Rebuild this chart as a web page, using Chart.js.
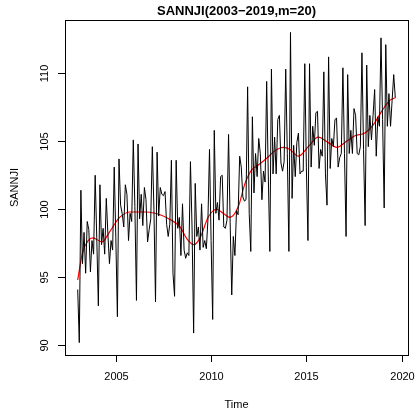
<!DOCTYPE html>
<html>
<head>
<meta charset="utf-8">
<title>SANNJI</title>
<script src="https://cdn.jsdelivr.net/npm/chart.js@4/dist/chart.umd.min.js"></script>
<style>
  html, body { margin: 0; padding: 0; background: #fff; }
  #wrap { width: 415px; height: 414px; }
</style>
</head>
<body>
<div id="wrap"><canvas id="plot" width="415" height="414"></canvas></div>
<script>
// monthly series, Jan 2003 .. Sep 2019
const startYear = 2003;
const sannji = [
  94.1, 90.2, 101.4, 96.0, 98.3, 95.3, 99.1, 98.5, 95.4, 97.7, 96.7, 102.5,
  97.9, 92.9, 101.8, 97.4, 98.6, 96.7, 100.8, 98.2, 96.0, 97.7, 97.0, 103.1,
  97.9, 92.1, 103.7, 100.3, 99.7, 98.7, 101.8, 101.1, 97.7, 99.7, 99.1, 105.1,
  100.2, 93.3, 104.8, 99.3, 101.1, 98.8, 101.6, 100.7, 97.6, 98.5, 99.3, 104.6,
  100.0, 93.2, 104.2, 99.5, 101.6, 101.1, 101.0, 101.3, 98.9, 98.0, 98.9, 103.6,
  95.3, 93.6, 103.6, 98.6, 99.4, 96.6, 100.4, 97.0, 96.4, 96.8, 96.6, 103.5,
  98.7, 90.9, 101.9, 98.0, 98.7, 97.0, 100.4, 97.2, 97.7, 97.1, 99.2, 104.4,
  97.7, 91.9, 105.8, 99.7, 100.5, 99.2, 102.4, 102.5, 98.7, 98.6, 99.2, 105.5,
  99.0, 93.7, 98.0, 96.6, 99.9, 99.6, 103.9, 103.1, 100.9, 100.6, 100.7, 109.0,
  99.7, 96.9, 106.8, 101.2, 104.1, 102.4, 105.2, 104.1, 100.7, 102.8, 102.0, 109.4,
  102.6, 96.9, 110.3, 102.6, 105.3, 102.6, 106.6, 106.9, 103.4, 102.8, 103.5, 110.3,
  104.1, 96.9, 113.0, 100.8, 104.7, 102.4, 104.9, 105.6, 102.6, 102.8, 102.8, 110.7,
  103.1, 97.7, 110.7, 103.1, 106.1, 104.7, 107.1, 107.2, 103.0, 104.4, 103.9, 110.1,
  102.6, 100.3, 111.2, 103.0, 105.2, 104.6, 106.6, 106.7, 103.1, 103.8, 104.1, 110.4,
  104.1, 98.0, 109.9, 104.1, 105.8, 104.1, 107.4, 106.9, 104.1, 104.0, 104.6, 111.5,
  104.4, 98.8, 110.6, 104.6, 106.9, 105.1, 106.9, 108.8, 103.9, 106.8, 106.1, 112.6,
  106.6, 100.1, 112.1, 106.1, 108.5, 106.1, 108.0, 109.9, 108.2
];

// smoothed trend (m=20), knots along the time axis
const trendTime = [
  2003.0, 2003.25, 2003.55, 2003.8, 2004.27, 2004.7, 2005.2, 2005.75,
  2006.62, 2007.32, 2007.85, 2008.37, 2008.72, 2009.1, 2009.42, 2009.86,
  2010.3, 2010.64, 2010.99, 2011.43, 2011.78, 2012.13, 2012.48, 2012.92,
  2013.35, 2013.79, 2014.14, 2014.58, 2015.1, 2015.62, 2016.15, 2016.59,
  2017.11, 2017.55, 2018.07, 2018.51, 2018.95, 2019.38, 2019.667
];
const trendValues = [
  94.8, 96.8, 97.7, 97.9, 97.6, 98.4, 99.4, 99.8,
  99.8, 99.6, 99.25, 98.7, 97.85, 97.4, 97.9, 99.45,
  100.0, 99.7, 99.4, 100.2, 101.9, 102.9, 103.25, 103.75,
  104.3, 104.55, 104.4, 103.9, 104.6, 105.3, 104.9, 104.55,
  105.0, 105.4, 105.6, 106.2, 107.2, 108.0, 108.2
];

const xTicks = [2005, 2010, 2015, 2020];
const yTicks = [90, 95, 100, 105, 110];
const mainTitle = 'SANNJI(2003\u22122019,m=20)';
const xTitle = 'Time';
const yTitle = 'SANNJI';

const FONT = '"Liberation Sans", Arial, Helvetica, sans-serif';

// R-style axis range: data range extended by 4% each side
function padRange(lo, hi) {
  const d = (hi - lo) * 0.04;
  return [lo - d, hi + d];
}
const endYear = startYear + (sannji.length - 1) / 12;
const [xMin, xMax] = padRange(startYear, endYear);
const [yMin, yMax] = padRange(Math.min(...sannji), Math.max(...sannji));

const seriesPoints = sannji.map((v, i) => ({ x: startYear + i / 12, y: v }));
const trendPoints = trendTime.map((t, i) => ({ x: t, y: trendValues[i] }));

// box, ticks and labels drawn like base graphics
const rAxes = {
  id: 'rAxes',
  afterDraw(chart) {
    const { ctx, chartArea: a, scales } = chart;
    const tick = 7;
    ctx.save();
    ctx.strokeStyle = '#000';
    ctx.fillStyle = '#000';
    ctx.lineWidth = 1;
    ctx.strokeRect(Math.round(a.left) + 0.5, Math.round(a.top) + 0.5,
      Math.round(a.right - a.left), Math.round(a.bottom - a.top));

    ctx.font = '11px ' + FONT;
    ctx.textAlign = 'center';
    ctx.textBaseline = 'middle';
    xTicks.forEach(v => {
      const px = Math.round(scales.x.getPixelForValue(v)) + 0.5;
      ctx.beginPath();
      ctx.moveTo(px, a.bottom);
      ctx.lineTo(px, a.bottom + tick);
      ctx.stroke();
      ctx.fillText(String(v), px, a.bottom + 22);
    });
    ctx.beginPath();
    ctx.moveTo(Math.round(scales.x.getPixelForValue(xTicks[0])) + 0.5, Math.round(a.bottom) + 0.5);
    ctx.lineTo(Math.round(scales.x.getPixelForValue(xTicks[xTicks.length - 1])) + 0.5, Math.round(a.bottom) + 0.5);
    ctx.stroke();

    yTicks.forEach(v => {
      const py = Math.round(scales.y.getPixelForValue(v)) + 0.5;
      ctx.beginPath();
      ctx.moveTo(a.left - tick, py);
      ctx.lineTo(a.left, py);
      ctx.stroke();
      ctx.save();
      ctx.translate(a.left - 20, py);
      ctx.rotate(-Math.PI / 2);
      ctx.fillText(String(v), 0, 0);
      ctx.restore();
    });

    const cx = (a.left + a.right) / 2;
    ctx.fillText(xTitle, cx, a.bottom + 50);
    ctx.save();
    ctx.translate(15, (a.top + a.bottom) / 2);
    ctx.rotate(-Math.PI / 2);
    ctx.fillText(yTitle, 0, 0);
    ctx.restore();

    ctx.font = 'bold 13px ' + FONT;
    ctx.fillText(mainTitle, cx, 11);
    ctx.restore();
  }
};

new Chart(document.getElementById('plot'), {
  type: 'line',
  data: {
    datasets: [
      {
        label: 'SANNJI',
        data: seriesPoints,
        borderColor: '#000',
        borderWidth: 1,
        pointRadius: 0,
        tension: 0,
        fill: false
      },
      {
        label: 'trend',
        data: trendPoints,
        borderColor: '#ff0000',
        borderWidth: 1.2,
        pointRadius: 0,
        cubicInterpolationMode: 'monotone',
        fill: false
      }
    ]
  },
  options: {
    responsive: false,
    animation: false,
    devicePixelRatio: 1,
    layout: { padding: { left: 65, top: 20, right: 7, bottom: 59 } },
    plugins: { legend: { display: false }, tooltip: { enabled: false }, title: { display: false } },
    scales: {
      x: { type: 'linear', min: xMin, max: xMax, display: false },
      y: { type: 'linear', min: yMin, max: yMax, display: false }
    }
  },
  plugins: [rAxes]
});
</script>
</body>
</html>
